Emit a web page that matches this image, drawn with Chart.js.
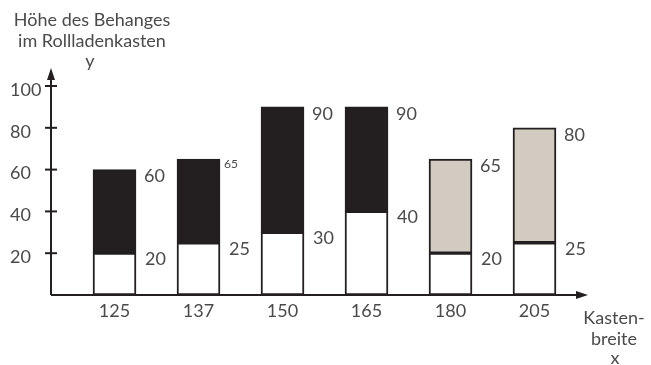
<!DOCTYPE html>
<html>
<head>
<meta charset="utf-8">
<script src="https://cdn.jsdelivr.net/npm/chart.js@4"></script>
<style>
  html, body { margin: 0; padding: 0; background: #fff; }
  #wrap { width: 651px; height: 365px; }
</style>
</head>
<body>
<div id="wrap"><canvas id="myChart"></canvas></div>
<script>
// Kastenbreite (x) und Höhe des Behanges (y)
let widths = ["125", "137", "150", "165", "180", "205"];
let lowValues = [20, 25, 30, 40, 20, 25];
let highValues = [60, 65, 90, 90, 65, 80];
let yTicks = [20, 40, 60, 80, 100];

let dark = "#231f20";
let textColor = "#4a4a4a";
let beige = "#d2cbc2";
let font = "Lato, 'Open Sans', sans-serif";

let ctx = document.getElementById('myChart');

let topColors = widths.map((w, i) => i < 4 ? dark : beige);

let axesPlugin = {
    id: "axesPlugin",
    afterDraw(chart) {
        let c = chart.ctx;
        let xs = chart.scales.x;
        let ys = chart.scales.y;
        let x0 = xs.left;
        let y0 = ys.getPixelForValue(0);
        c.save();
        c.strokeStyle = dark;
        c.fillStyle = dark;
        c.lineWidth = 2;
        // axes
        c.beginPath();
        c.moveTo(x0, y0);
        c.lineTo(x0, 76);
        c.moveTo(x0, y0);
        c.lineTo(xs.right - 6, y0);
        c.stroke();
        // arrows
        c.beginPath();
        c.moveTo(x0, 68);
        c.lineTo(x0 - 4, 80);
        c.lineTo(x0 + 4, 80);
        c.closePath();
        c.fill();
        c.beginPath();
        c.moveTo(xs.right + 1, y0);
        c.lineTo(xs.right - 11, y0 - 4);
        c.lineTo(xs.right - 11, y0 + 4);
        c.closePath();
        c.fill();
        // y ticks across the axis
        yTicks.forEach(v => {
            let y = ys.getPixelForValue(v);
            c.beginPath();
            c.moveTo(x0 - 6, y);
            c.lineTo(x0 + 6, y);
            c.stroke();
        });

        // value labels beside the bars
        c.fillStyle = textColor;
        c.textAlign = "left";
        c.textBaseline = "middle";
        let bars = chart.getDatasetMeta(1).data;
        bars.forEach((bar, i) => {
            let right = bar.x + bar.width / 2;
            let small = i === 1;
            c.font = (small ? "12px " : "18px ") + font;
            c.fillText(String(highValues[i]), right + (small ? 4 : 8), ys.getPixelForValue(highValues[i]) + (small ? 5 : 7));
            c.font = "18px " + font;
            c.fillText(String(lowValues[i]), right + 9, ys.getPixelForValue(lowValues[i]) + 6);
        });

        // axis titles
        c.font = "18px " + font;
        c.textAlign = "center";
        c.fillText("Höhe des Behanges", 92, 20);
        c.fillText("im Rollladenkasten", 92, 41);
        c.fillText("y", 90, 61);
        c.fillText("Kasten-", 614, 318);
        c.fillText("breite", 614, 339);
        c.fillText("x", 615, 358);
        c.restore();
    }
};

function makeChart() {
    const myChart = new Chart(ctx, {
        type: 'bar',
        data: {
            datasets: [
                {
                    label: 'unten',
                    data: lowValues.map((v, i) => ({x: i, y: [0, v]})),
                    backgroundColor: "#ffffff",
                    borderColor: dark,
                    borderWidth: 2,
                    borderSkipped: false,
                    barThickness: 43,
                    grouped: false,
                    order: 2
                },
                {
                    label: 'oben',
                    data: highValues.map((v, i) => ({x: i, y: [lowValues[i], v]})),
                    backgroundColor: topColors,
                    borderColor: dark,
                    borderWidth: 2,
                    borderSkipped: false,
                    barThickness: 43,
                    grouped: false,
                    order: 1
                }
            ]
        },
        options: {
            responsive: true,
            maintainAspectRatio: false,
            animation: false,
            layout: {
                padding: { left: 10, top: 86, right: 64, bottom: 0 }
            },
            plugins: {
                legend: { display: false },
                tooltip: { enabled: false }
            },
            scales: {
                x: {
                    type: 'linear',
                    offset: false,
                    min: -0.756,
                    max: 5.625,
                    afterBuildTicks: scale => {
                        scale.ticks = widths.map((w, i) => ({value: i}));
                    },
                    afterFit: scale => { scale.height = 70; },
                    grid: { display: false, drawTicks: false, offset: false },
                    border: { display: false },
                    ticks: {
                        callback: v => widths[v],
                        color: textColor,
                        font: { family: font, size: 18 },
                        padding: 5,
                        maxRotation: 0,
                        autoSkip: false
                    }
                },
                y: {
                    min: 0,
                    max: 100,
                    afterBuildTicks: scale => {
                        scale.ticks = yTicks.map(v => ({value: v}));
                    },
                    afterFit: scale => { scale.width = 41; },
                    grid: { display: false, drawTicks: false },
                    border: { display: false },
                    ticks: {
                        color: textColor,
                        font: { family: font, size: 18 },
                        crossAlign: 'far',
                        labelOffset: 4
                    }
                }
            }
        },
        plugins: [axesPlugin]
    });
}

makeChart()
</script>
</body>
</html>
